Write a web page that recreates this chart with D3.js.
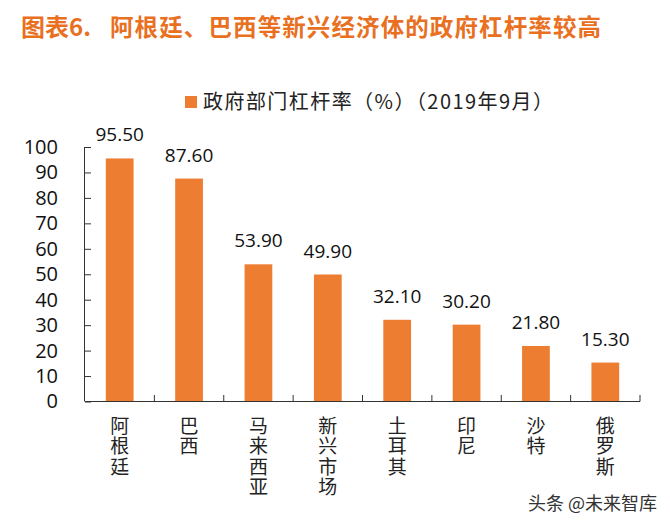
<!DOCTYPE html>
<html>
<head>
<meta charset="utf-8">
<script src="https://cdnjs.cloudflare.com/ajax/libs/d3/7.8.5/d3.min.js"></script>
<style>
  body { margin: 0; background: #fff; }
  svg { display: block; }
</style>
</head>
<body>
<div id="chart"></div>
<script>
// data
var categories = ['阿根廷', '巴西', '马来西亚', '新兴市场', '土耳其', '印尼', '沙特', '俄罗斯'];
var govLeverage = [95.50, 87.60, 53.90, 49.90, 32.10, 30.20, 21.80, 15.30];
var yTicks = [0, 10, 20, 30, 40, 50, 60, 70, 80, 90, 100];
var seriesName = '政府部门杠杆率（%）（2019年9月）';
var titleNo = '图表6.';
var titleText = '阿根廷、巴西等新兴经济体的政府杠杆率较高';

var W = 670, H = 526;
var barColor = '#ED7D31';
var titleColor = '#E8701F';
var cjk = '"Noto Sans CJK SC", "Noto Sans", sans-serif';
var num = '"Open Sans", "DejaVu Sans", sans-serif';

var svg = d3.select('#chart').append('svg')
    .attr('width', W)
    .attr('height', H);

// title, number and caption set apart like the report style
svg.append('text')
    .attr('x', 21)
    .attr('y', 36)
    .attr('fill', titleColor)
    .style('font-family', cjk)
    .style('font-weight', 'bold')
    .style('font-size', '24px')
    .text(titleNo);
svg.append('text')
    .attr('x', 110)
    .attr('y', 36)
    .attr('fill', titleColor)
    .attr('textLength', 491)
    .attr('lengthAdjust', 'spacing')
    .style('font-family', cjk)
    .style('font-weight', 'bold')
    .style('font-size', '23.5px')
    .text(titleText);

// legend
svg.append('rect')
    .attr('x', 185).attr('y', 96)
    .attr('width', 12).attr('height', 12)
    .attr('fill', barColor);
svg.append('text')
    .attr('x', 203)
    .attr('y', 109)
    .attr('fill', '#222')
    .attr('textLength', 350)
    .attr('lengthAdjust', 'spacing')
    .style('font-family', cjk)
    .style('font-size', '20px')
    .text(seriesName);

var x = d3.scaleBand()
    .domain(categories)
    .range([85, 640])
    .paddingInner(0.6)
    .paddingOuter(0.3);

var y = d3.scaleLinear()
    .domain([0, 100])
    .range([401.5, 147]);

// bars
svg.selectAll('rect.bar')
    .data(govLeverage)
    .enter().append('rect')
    .attr('class', 'bar')
    .attr('x', function (d, i) { return x(categories[i]); })
    .attr('y', function (d) { return y(d); })
    .attr('width', x.bandwidth())
    .attr('height', function (d) { return y(0) - y(d); })
    .attr('fill', barColor);

// value labels
svg.selectAll('text.val')
    .data(govLeverage)
    .enter().append('text')
    .attr('class', 'val')
    .attr('x', function (d, i) { return x(categories[i]) + x.bandwidth() / 2; })
    .attr('y', function (d) { return y(d) - 17; })
    .attr('text-anchor', 'middle')
    .attr('fill', '#111')
    .style('font-family', num)
    .style('font-size', '19px')
    .text(function (d) { return d.toFixed(2); });

// y axis
var yAxis = svg.append('g')
    .attr('transform', 'translate(85,0)')
    .call(d3.axisLeft(y).tickValues(yTicks).tickSize(-6).tickPadding(27));
yAxis.select('.domain').attr('stroke', '#333').attr('d', 'M-0.5,147V401.5');
yAxis.selectAll('.tick line').attr('stroke', '#333');
yAxis.selectAll('.tick text')
    .attr('fill', '#111')
    .style('font-family', num)
    .style('font-size', '20px');

// x axis line with boundary ticks pointing up
var bounds = d3.range(categories.length + 1).map(function (i) { return 85 + i * (640 - 85) / categories.length; });
svg.append('line')
    .attr('x1', 85).attr('x2', 640)
    .attr('y1', 401.5).attr('y2', 401.5)
    .attr('stroke', '#333');
svg.selectAll('line.xt')
    .data(bounds.slice(1))
    .enter().append('line')
    .attr('class', 'xt')
    .attr('x1', function (d) { return d; })
    .attr('x2', function (d) { return d; })
    .attr('y1', 401.5).attr('y2', 395)
    .attr('stroke', '#333');

// vertical category labels
svg.selectAll('text.cat')
    .data(categories)
    .enter().append('text')
    .attr('class', 'cat')
    .attr('x', function (c) { return x(c) + x.bandwidth() / 2; })
    .attr('y', 416)
    .attr('fill', '#222')
    .style('writing-mode', 'vertical-rl')
    .style('letter-spacing', '1.5px')
    .style('font-family', cjk)
    .style('font-size', '19px')
    .text(function (c) { return c; });

// watermark
svg.append('text')
    .attr('x', 657)
    .attr('y', 510)
    .attr('text-anchor', 'end')
    .attr('fill', '#333')
    .style('font-family', cjk)
    .style('font-size', '18px')
    .text('头条 @未来智库');
</script>
</body>
</html>
